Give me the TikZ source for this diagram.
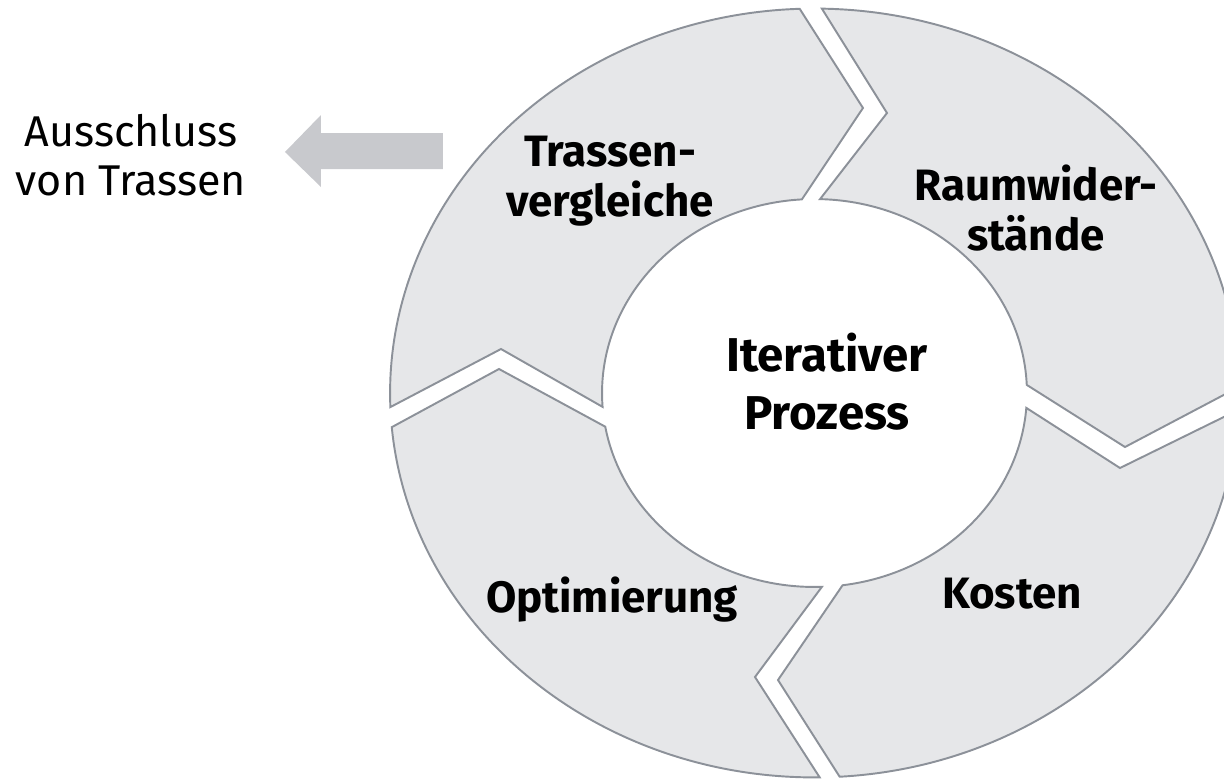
\documentclass[tikz,border=0pt]{standalone}
\usepackage{fontspec}
\setmainfont{Fira Sans}
\usepackage{tikz}
\usetikzlibrary{calc}
\usepackage{xcolor}
\definecolor{ringfill}{HTML}{E6E7E9}
\definecolor{ringline}{HTML}{8C9199}
\definecolor{arrowgray}{HTML}{C8C9CD}

\begin{document}
\begin{tikzpicture}[
    x=0.02cm, y=0.02cm,
    seg/.style={
        fill=ringfill, draw=ringline, line width=1.1pt, line join=miter
    },
    outer/.style={x radius=8.49cm, y radius=7.69cm},
    hole/.style={x radius=4.25cm, y radius=3.88cm},
    lbl/.style={
        align=center, font=\fontsize{25}{28.5}\selectfont\bfseries
    },
    mainlbl/.style={
        align=center, font=\fontsize{27}{33}\selectfont\bfseries
    },
    sidelbl/.style={
        align=center, font=\fontsize{24.5}{28}\selectfont
    },
    blockarr/.style={fill=arrowgray, draw=none},
]

\useasboundingbox (-814.5,-386) rectangle (409.5,393);
\clip (-814.5,-386) rectangle (409.5,393);

% ── Ring segments ──────
\draw[seg] (92:8.49cm and 7.69cm)
    arc[outer, start angle=92, end angle=182.1]
    -- (-313.5,44) -- (184.1:4.25cm and 3.88cm)
    arc[hole, start angle=184.1, end angle=93.4]
    -- (48.5,285) -- cycle;
\draw[seg] (0.9:8.49cm and 7.69cm)
    arc[outer, start angle=0.9, end angle=89]
    -- (72.5,280) -- (88.5:4.25cm and 3.88cm)
    arc[hole, start angle=88.5, end angle=2.4]
    -- (310.5,-54) -- cycle;
\draw[seg] (-86.6:8.49cm and 7.69cm)
    arc[outer, start angle=-86.6, end angle=-2.5]
    -- (305.5,-75) -- (-4.4:4.25cm and 3.88cm)
    arc[hole, start angle=-4.4, end angle=-82.4]
    -- (-36.5,-287) -- cycle;
\draw[seg] (185.1:8.49cm and 7.69cm)
    arc[outer, start angle=185.1, end angle=270.7]
    -- (-59.5,-284) -- (272:4.25cm and 3.88cm)
    arc[hole, start angle=272, end angle=190]
    -- (-315.5,24) -- cycle;

% ── Labels ──────
\node[mainlbl] (center) at (12.5,11.5) {Iterativer\\Prozess};
\node[lbl] (compare) at (-204.5,211.5) {Trassen-\\vergleiche};
\node[lbl] (resist) at (221.5,185) {Raumwider-\\stände};
\node[lbl] (cost) at (197.5,-201) {Kosten};
\node[lbl] (optim) at (-202.5,-206.5) {Optimierung};
\node[sidelbl] (exclude) at (-683.5,238) {Ausschluss\\von Trassen};

% ── Block arrow ──────
\fill[blockarr] (-529.5,241) -- (-493.5,278) -- (-493.5,260) -- (-371.5,260)
    -- (-371.5,224) -- (-493.5,224) -- (-493.5,206) -- cycle;

\end{tikzpicture}
\end{document}
